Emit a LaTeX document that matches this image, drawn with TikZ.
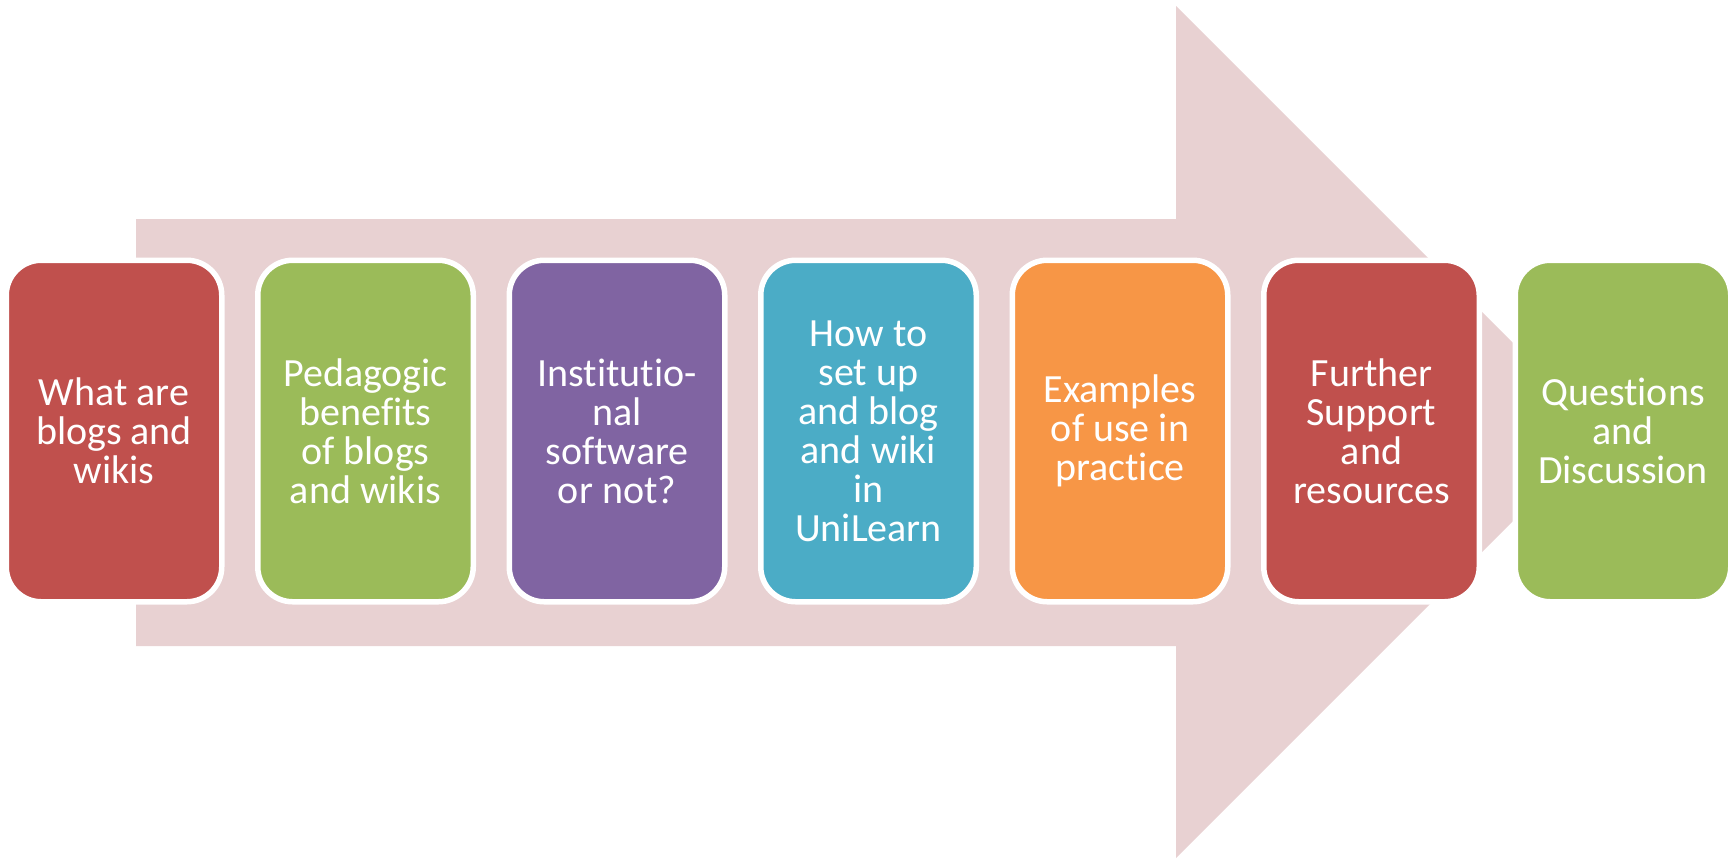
\documentclass[tikz,border=0pt]{standalone}
\usepackage{fontspec}
\setmainfont[Ligatures=NoCommon]{Carlito}
\definecolor{arrowpink}{RGB}{232,209,210}
\definecolor{cred}{HTML}{C0504D}
\definecolor{cgreen}{HTML}{9BBB59}
\definecolor{cpurple}{HTML}{8064A2}
\definecolor{caqua}{HTML}{4BACC6}
\definecolor{corange}{HTML}{F79646}
\tikzset{
  stepbox/.style={rectangle, rounded corners=17.5pt, draw=white, line width=2.75pt,
    minimum width=107.75pt, minimum height=170.75pt, inner sep=0pt,
    text=white, align=center, font=\fontsize{20}{19.5}\selectfont},
}
\begin{document}
\begin{tikzpicture}[x=0.5pt, y=-0.5pt]
\useasboundingbox (0,0) rectangle (1732,858);
% big background arrow
\fill[arrowpink] (136,219) -- (1176,219) -- (1176,6) -- (1602,432) -- (1176,858)
  -- (1176,646) -- (136,646) -- cycle;
% steps
\node[stepbox, fill=cred]    (b1) at (114,431)    {What are\\blogs and\\wikis};
\node[stepbox, fill=cgreen]  (b2) at (365.5,431)  {Pedagogic\\benefits\\of blogs\\and wikis};
\node[stepbox, fill=cpurple] (b3) at (617,431)    {Institutio-\\nal\\software\\or not?};
\node[stepbox, fill=caqua]   (b4) at (868.5,431)  {How to\\set up\\and blog\\and wiki\\in\\UniLearn};
\node[stepbox, fill=corange] (b5) at (1120,431)   {Examples\\of use in\\practice};
\node[stepbox, fill=cred]    (b6) at (1371.5,431) {Further\\Support\\and\\resources};
\node[stepbox, fill=cgreen]  (b7) at (1623,431)   {Questions\\and\\Discussion};
\end{tikzpicture}
\end{document}
